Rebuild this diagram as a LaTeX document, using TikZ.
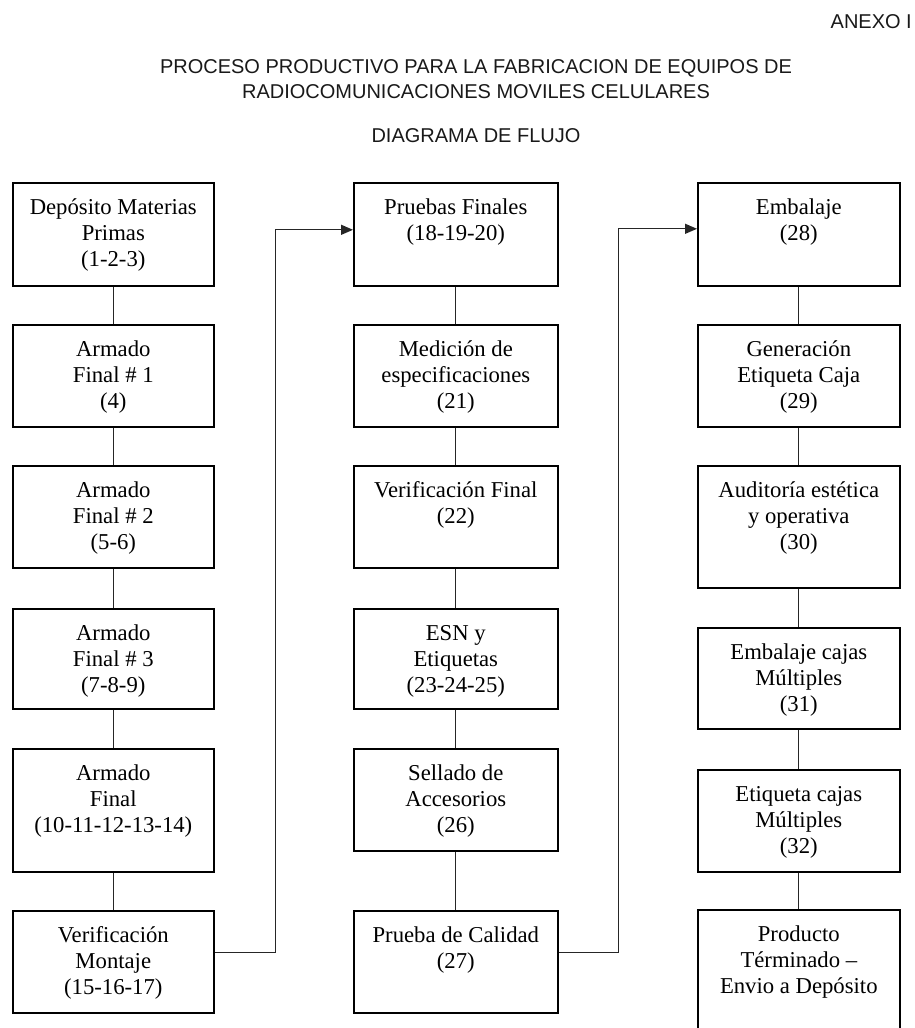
\documentclass[tikz,border=0pt]{standalone}
\usepackage{fontspec}
\setmainfont{Liberation Serif}
\newfontfamily\titlefont{Liberation Sans}
\usetikzlibrary{arrows.meta}
\newcommand{\bxt}[3]{\parbox[c][#1][t]{#2}{\fontsize{22.7}{25.8}\selectfont\centering\vspace*{13.6pt}\strut #3}}
\tikzset{
  procbox/.style={draw=black, line width=1.6pt, inner sep=0pt, anchor=north west},
  link/.style={line width=1.3pt, draw=black!85},
  flow/.style={link, -{Triangle[length=12pt,width=10pt]}},
  ttl/.style={font=\titlefont\fontsize{20}{24}\selectfont, inner sep=0pt, anchor=base, text=black!90}
}
\begin{document}
\begin{tikzpicture}[x=1pt,y=-1pt]
\useasboundingbox (0,0) rectangle (914,1028);
\clip (0,0) rectangle (914,1028);
% titles
\node[ttl, anchor=base east] (anexo) at (912,28) {ANEXO I};
\node[ttl] (t1) at (476,73) {PROCESO PRODUCTIVO PARA LA FABRICACION DE EQUIPOS DE};
\node[ttl] (t2) at (476,98.5) {RADIOCOMUNICACIONES MOVILES CELULARES};
\node[ttl] (t3) at (476,142.5) {DIAGRAMA DE FLUJO};
% column 1
\node[procbox] (a1) at (12,182) {\bxt{103pt}{201pt}{Depósito Materias\\Primas\\(1-2-3)}};
\node[procbox] (a2) at (12,324) {\bxt{102pt}{201pt}{Armado\\Final \# 1\\(4)}};
\node[procbox] (a3) at (12,465) {\bxt{102pt}{201pt}{Armado\\Final \# 2\\(5-6)}};
\node[procbox] (a4) at (12,608) {\bxt{100pt}{201pt}{Armado\\Final \# 3\\(7-8-9)}};
\node[procbox] (a5) at (12,748) {\bxt{123pt}{201pt}{Armado\\Final\\(10-11-12-13-14)}};
\node[procbox] (a6) at (12,910) {\bxt{102pt}{201pt}{Verificación\\Montaje\\(15-16-17)}};
% column 2
\node[procbox] (b1) at (353,182) {\bxt{103pt}{204pt}{Pruebas Finales\\(18-19-20)}};
\node[procbox] (b2) at (353,324) {\bxt{102pt}{204pt}{Medición de\\especificaciones\\(21)}};
\node[procbox] (b3) at (353,465) {\bxt{102pt}{204pt}{Verificación Final\\(22)}};
\node[procbox] (b4) at (353,608) {\bxt{100pt}{204pt}{ESN y\\Etiquetas\\(23-24-25)}};
\node[procbox] (b5) at (353,748) {\bxt{102pt}{204pt}{Sellado de\\Accesorios\\(26)}};
\node[procbox] (b6) at (353,910) {\bxt{102pt}{204pt}{Prueba de Calidad\\(27)}};
% column 3
\node[procbox] (c1) at (697,182) {\bxt{103pt}{202pt}{Embalaje\\(28)}};
\node[procbox] (c2) at (697,324) {\bxt{102pt}{202pt}{Generación\\Etiqueta Caja\\(29)}};
\node[procbox] (c3) at (697,465) {\bxt{122pt}{202pt}{Auditoría estética\\y operativa\\(30)}};
\node[procbox] (c4) at (697,627) {\bxt{101pt}{202pt}{Embalaje cajas\\Múltiples\\(31)}};
\node[procbox] (c5) at (697,769) {\bxt{102pt}{202pt}{Etiqueta cajas\\Múltiples\\(32)}};
\node[procbox] (c6) at (697,909) {\bxt{135pt}{202pt}{Producto\\Términado –\\Envio a Depósito}};
% vertical links
\foreach \p/\q in {a1/a2,a2/a3,a3/a4,a4/a5,a5/a6,b1/b2,b2/b3,b3/b4,b4/b5,b5/b6,c1/c2,c2/c3,c3/c4,c4/c5,c5/c6}
  \draw[link] (\p.south) -- (\q.north);
% column transfers
\draw[flow] ([yshift=9pt]a6.east) -- ++(61,0) |- ([yshift=4.5pt]b1.west);
\draw[flow] ([yshift=9pt]b6.east) -- ++(60,0) |- ([yshift=5.5pt]c1.west);
\end{tikzpicture}
\end{document}
